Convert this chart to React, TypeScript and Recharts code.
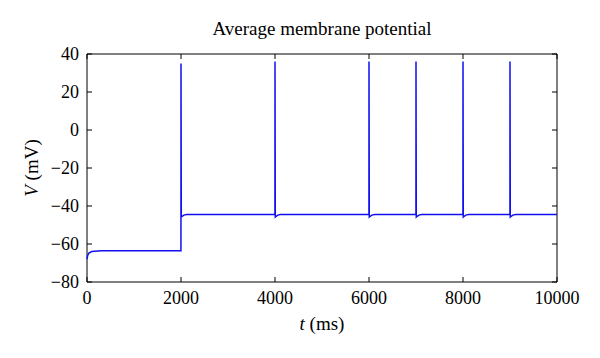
import { LineChart, Line, XAxis, YAxis, ReferenceArea, Label } from "recharts";

// time (ms) and averaged membrane potential (mV)
const spikeTimes = [2000, 4000, 6000, 7000, 8000, 9000];
const restTimes = [0, 15, 40, 100, 300, 1000, 1999];
const restVolts = [-68, -66, -64.8, -64, -63.6, -63.5, -63.5];
const spikePeaks = [35, 36, 36, 36, 36, 36];
const afterOffsets = [6, 25, 60, 120];
const afterVolts = [-45.8, -45.4, -44.8, -44.5];
const plateau = -44.5;
const xTicks = [0, 2000, 4000, 6000, 8000, 10000];
const yTicks = [-80, -60, -40, -20, 0, 20, 40];

const trace: { t: number; v: number }[] = [];
restTimes.forEach((t, i) => trace.push({ t, v: restVolts[i] }));
spikeTimes.forEach((s, i) => {
  if (i > 0) trace.push({ t: s - 1, v: plateau });
  trace.push({ t: s, v: spikePeaks[i] });
  afterOffsets.forEach((o, j) => trace.push({ t: s + o, v: afterVolts[j] }));
});
trace.push({ t: 10000, v: plateau });

const W = 600;
const H = 358;
const TOP = 54;
const BOTTOM = 282;
const LEFT = 87;
const RIGHT = 557;
const FONT = "'Liberation Serif', 'DejaVu Serif', serif";
const TICK = 5;

function XTick(props: any) {
  const { x, payload } = props;
  return (
    <g>
      <line x1={x} x2={x} y1={BOTTOM} y2={BOTTOM - TICK} stroke="#000" />
      <line x1={x} x2={x} y1={TOP} y2={TOP + TICK} stroke="#000" />
      <text x={x} y={BOTTOM + 22} textAnchor="middle" fontSize={18} fontFamily={FONT} fill="#000">
        {payload.value}
      </text>
    </g>
  );
}

function YTick(props: any) {
  const { y, payload } = props;
  return (
    <g>
      <line x1={LEFT} x2={LEFT + TICK} y1={y} y2={y} stroke="#000" />
      <line x1={RIGHT} x2={RIGHT - TICK} y1={y} y2={y} stroke="#000" />
      <text x={LEFT - 8} y={y + 6} textAnchor="end" fontSize={18} fontFamily={FONT} fill="#000">
        {String(payload.value).replace("-", "\u2212")}
      </text>
    </g>
  );
}

export default function App() {
  return (
    <div style={{ position: "absolute", left: 0, top: 0, width: W, height: H, background: "#fff" }}>
      <div
        style={{
          position: "absolute",
          top: 18,
          left: LEFT,
          width: RIGHT - LEFT,
          textAlign: "center",
          fontFamily: FONT,
          fontSize: 19,
          lineHeight: "22px",
          color: "#000",
        }}
      >
        Average membrane potential
      </div>
      <LineChart
        width={W}
        height={H}
        data={trace}
        margin={{ top: TOP, right: W - RIGHT, bottom: 0, left: 0 }}
      >
        <XAxis
          dataKey="t"
          type="number"
          domain={[0, 10000]}
          ticks={xTicks}
          tick={<XTick />}
          tickLine={false}
          axisLine={false}
          height={H - BOTTOM}
          interval={0}
        >
          <Label
            content={() => (
              <text x={(LEFT + RIGHT) / 2} y={BOTTOM + 48} textAnchor="middle" fontSize={19} fontFamily={FONT} fill="#000">
                <tspan fontStyle="italic">t</tspan> (ms)
              </text>
            )}
          />
        </XAxis>
        <YAxis
          type="number"
          domain={[-80, 40]}
          ticks={yTicks}
          tick={<YTick />}
          tickLine={false}
          axisLine={false}
          width={LEFT}
          interval={0}
        >
          <Label
            content={() => (
              <text
                x={0}
                y={0}
                transform={`translate(38, ${(TOP + BOTTOM) / 2}) rotate(-90)`}
                textAnchor="middle"
                fontSize={19}
                fontFamily={FONT}
                fill="#000"
              >
                <tspan fontStyle="italic">V</tspan> (mV)
              </text>
            )}
          />
        </YAxis>
        <ReferenceArea
          x1={0}
          x2={10000}
          y1={-80}
          y2={40}
          fill="none"
          stroke="#000"
          strokeWidth={1}
          ifOverflow="visible"
        />
        <Line
          dataKey="v"
          type="linear"
          stroke="#1010f0"
          strokeWidth={1.5}
          dot={false}
          isAnimationActive={false}
        />
      </LineChart>
    </div>
  );
}
